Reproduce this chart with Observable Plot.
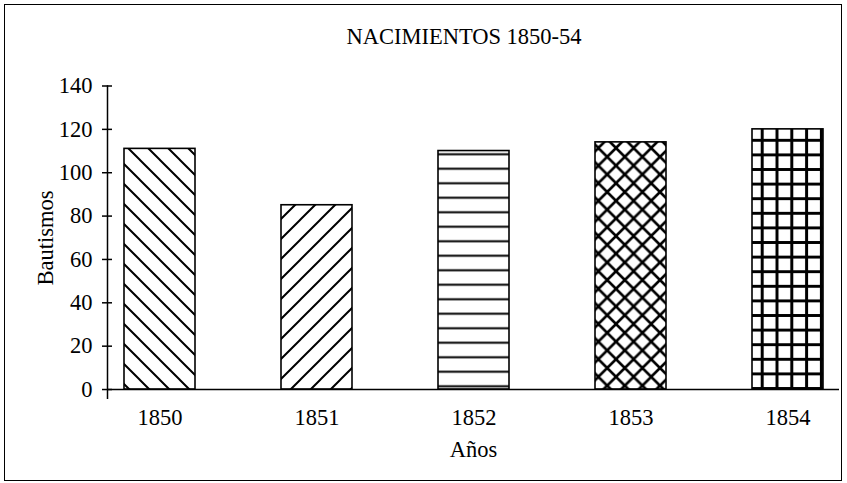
<!DOCTYPE html>
<html>
<head>
<meta charset="utf-8">
<script src="https://cdn.jsdelivr.net/npm/d3@7"></script>
<script src="https://cdn.jsdelivr.net/npm/@observablehq/plot@0.6"></script>
<style>
  html, body { margin: 0; padding: 0; background: #fff; }
  #wrap { position: relative; width: 847px; height: 483px; overflow: hidden; font-family: "Liberation Serif", "DejaVu Serif", serif; }
  #box { position: absolute; left: 4px; top: 4px; width: 836px; height: 475px; border: 1.5px solid #000; pointer-events: none; }
  #title { width: 847px; box-sizing: border-box; padding-left: 81px; padding-top: 26px; height: 60px; line-height: 22px; font-size: 22.5px; text-align: center; color: #000; }
  svg { display: block; }
</style>
</head>
<body>
<div id="wrap">
  <div id="title">NACIMIENTOS 1850-54</div>
  <div id="chart"></div>
  <div id="box"></div>
</div>
<script>
const years = ["1850", "1851", "1852", "1853", "1854"];
const bautismos = [111, 85, 110, 114, 120];
const yTicks = [0, 20, 40, 60, 80, 100, 120, 140];
const yLabel = "Bautismos";
const xLabel = "Años";

const table = years.map((year, i) => ({year, value: bautismos[i], pat: "pat" + i}));
const font = "Liberation Serif";
const fs = 22.5;

const chart = Plot.plot({
  width: 847,
  height: 423,
  marginLeft: 107,
  marginRight: 8,
  marginTop: 25.5,
  marginBottom: 85.3,
  style: {fontFamily: font, fontSize: fs + "px", color: "#000", background: "transparent"},
  x: {domain: years, paddingInner: 0.55, paddingOuter: 0.095, label: null},
  y: {domain: [-4, 140], label: null},
  marks: [
    ...table.map(d => Plot.barY([d], {x: "year", y: "value", fill: `url(#${d.pat})`, stroke: "#000", strokeWidth: 1.6})),
    Plot.ruleY([0], {stroke: "#000", strokeWidth: 1.5}),
    Plot.frame({anchor: "left", stroke: "#000", strokeWidth: 1.5}),
    Plot.axisY({ticks: yTicks, tickSize: 10, dx: 5, tickPadding: 10, label: null, fontSize: fs, fontFamily: font, strokeWidth: 1.5}),
    Plot.axisX({tickSize: 0, tickPadding: 11, label: null, fontSize: fs, fontFamily: font}),
    Plot.text([yLabel], {frameAnchor: "left", textAnchor: "middle", lineAnchor: "middle", text: d => d, rotate: -90, dx: -62, dy: -4, fontSize: fs, fontFamily: font, fill: "#000"}),
    Plot.text([xLabel], {frameAnchor: "bottom", textAnchor: "middle", lineAnchor: "middle", text: d => d, dy: 51.5, fontSize: fs, fontFamily: font, fill: "#000"})
  ]
});

// hatch pattern definitions (styles only)
const svg = d3.select(chart);
const defs = svg.insert("defs", ":first-child");
function pattern(id, w, h, path, sw) {
  const p = defs.append("pattern").attr("id", id).attr("patternUnits", "userSpaceOnUse")
    .attr("width", w).attr("height", h);
  p.append("rect").attr("width", w).attr("height", h).attr("fill", "#fff");
  p.append("path").attr("d", path).attr("stroke", "#000").attr("stroke-width", sw).attr("fill", "none");
}
pattern("pat0", 20, 20, "M-10,10L10,30M0,0L20,20M10,-10L30,10", 2);
pattern("pat1", 20, 20, "M-10,10L10,-10M0,20L20,0M10,30L30,10", 2);
pattern("pat2", 10, 14.5, "M-1,7.25H11", 2);
pattern("pat3", 17.6, 17.6, "M-8.8,8.8L8.8,26.4M0,0L17.6,17.6M8.8,-8.8L26.4,8.8M-8.8,8.8L8.8,-8.8M0,17.6L17.6,0M8.8,26.4L26.4,8.8", 2.6);
pattern("pat4", 14.8, 14.6, "M7.4,-1V15.6M-1,7.3H15.8", 3);

document.getElementById("chart").appendChild(chart);
</script>
</body>
</html>
